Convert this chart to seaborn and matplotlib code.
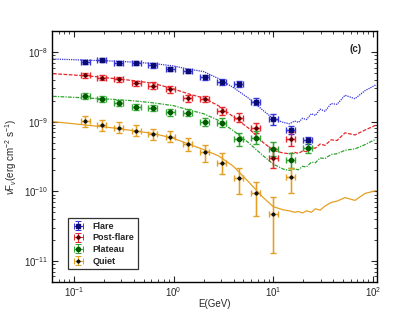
import numpy as np
import pandas as pd
import matplotlib
matplotlib.use('Agg')
import matplotlib.pyplot as plt
import seaborn as sns

sns.set_style('ticks')
plt.rcParams['font.family'] = ['Liberation Sans', 'DejaVu Sans']
plt.rcParams['mathtext.fontset'] = 'custom'
plt.rcParams['mathtext.rm'] = 'Liberation Sans'
plt.rcParams['mathtext.it'] = 'Liberation Sans:italic'
plt.rcParams['mathtext.bf'] = 'Liberation Sans:bold'
plt.rcParams['font.size'] = 7

# energy bins (GeV) of the data points
energy = [0.13, 0.19, 0.28, 0.42, 0.62, 0.93, 1.38, 2.05, 3.05, 4.5, 6.7, 10.0, 14.9, 22.2]
x_err_dex = 0.045

# log10 of nuFnu for each state
flare_log = [-8.139, -8.115, -8.153, -8.153, -8.192, -8.239, -8.268, -8.364, -8.426, -8.458,
             -8.716, -8.966, -9.123, -9.267]
flare_err = [0.03, 0.03, 0.03, 0.03, 0.03, 0.03, 0.03, 0.035, 0.04, 0.04, 0.05, 0.08, 0.06, 0.05]

post_log = [-8.335, -8.366, -8.392, -8.45, -8.483, -8.536, -8.665, -8.674, -8.842, -8.941,
            -9.089, -9.524, -9.246]
post_err = [0.04, 0.04, 0.04, 0.04, 0.05, 0.05, 0.05, 0.05, 0.06, 0.065, 0.07, 0.14, 0.1]

plateau_log = [-8.636, -8.674, -8.731, -8.784, -8.802, -8.865, -8.87, -9.0, -9.013, -9.252,
               -9.228, -9.39, -9.557, -9.371]
plateau_err = [0.045, 0.04, 0.045, 0.045, 0.045, 0.05, 0.05, 0.06, 0.065, 0.09, 0.09, 0.1, 0.11, 0.076]

quiet_log = [-8.995, -9.05, -9.089, -9.132, -9.18, -9.218, -9.318, -9.433, -9.59, -9.81,
             -10.024, -10.32, -9.8]
quiet_lo = [0.075, 0.08, 0.08, 0.08, 0.08, 0.08, 0.107, 0.145, 0.155, 0.222, 0.334, 0.56, 0.227]
quiet_hi = [0.075, 0.08, 0.08, 0.08, 0.08, 0.08, 0.09, 0.095, 0.134, 0.152, 0.153, 0.243, 0.134]

# model curves (log10 E, log10 nuFnu)
model_logE = [-1.21, -1.0, -0.8, -0.6, -0.4, -0.2, 0.0, 0.15, 0.3, 0.45, 0.6, 0.75, 0.9, 1.0, 1.1,
              1.164, 1.214, 1.254, 1.294, 1.333, 1.383, 1.423, 1.47, 1.52, 1.58, 1.64, 1.72,
              1.82, 1.92, 2.03]
flare_model = [-8.10, -8.11, -8.12, -8.13, -8.145, -8.165, -8.20, -8.245, -8.28, -8.38, -8.51,
               -8.66, -8.84, -8.955, -9.01, -9.03, -8.99, -9.01, -8.95, -8.97, -8.885, -8.91,
               -8.82, -8.85, -8.74, -8.75, -8.62, -8.67, -8.555, -8.47]
post_model = [-8.31, -8.33, -8.35, -8.38, -8.41, -8.45, -8.53, -8.60, -8.66, -8.77, -8.93,
              -9.09, -9.30, -9.41, -9.45, -9.46, -9.44, -9.455, -9.42, -9.43, -9.375, -9.38,
              -9.32, -9.34, -9.26, -9.27, -9.16, -9.19, -9.12, -9.05]
plateau_model = [-8.636, -8.65, -8.665, -8.68, -8.70, -8.73, -8.77, -8.83, -8.885, -8.98, -9.13,
                 -9.30, -9.49, -9.61, -9.68, -9.70, -9.68, -9.69, -9.64, -9.65, -9.58, -9.59,
                 -9.52, -9.53, -9.47, -9.46, -9.41, -9.39, -9.33, -9.25]
quiet_model = [-9.0, -9.03, -9.06, -9.09, -9.13, -9.17, -9.24, -9.32, -9.40, -9.49, -9.64,
               -9.86, -10.09, -10.22, -10.265, -10.28, -10.30, -10.29, -10.31, -10.28, -10.30,
               -10.25, -10.27, -10.21, -10.16, -10.14, -10.09, -10.13, -10.03, -9.99]

states = ['Flare', 'Post-flare', 'Plateau', 'Quiet']
colors = {'Flare': '#3434d8', 'Post-flare': '#e8262a', 'Plateau': '#2fa52f', 'Quiet': '#e5a023'}
dark = {'Flare': '#0a0a70', 'Post-flare': '#600000', 'Plateau': '#005a00', 'Quiet': '#111111'}
markers = {'Flare': 's', 'Post-flare': 'D', 'Plateau': 'o', 'Quiet': 'D'}
msize = {'Flare': 2.6, 'Post-flare': 1.9, 'Plateau': 3.0, 'Quiet': 1.7}
dashes = {'Flare': (1, 0.8), 'Post-flare': (3, 1.2), 'Plateau': (3, 1, 1, 1), 'Quiet': None}

points = {
    'Flare': (flare_log, flare_err, flare_err),
    'Post-flare': (post_log, post_err, post_err),
    'Plateau': (plateau_log, plateau_err, plateau_err),
    'Quiet': (quiet_log, quiet_lo, quiet_hi),
}
models = {'Flare': flare_model, 'Post-flare': post_model,
          'Plateau': plateau_model, 'Quiet': quiet_model}

fig = plt.figure(figsize=(4.18, 3.14), dpi=100)
ax = fig.add_axes([0.124, 0.102, 0.778, 0.799])

model_df = pd.concat([
    pd.DataFrame({'E': 10 ** np.array(model_logE), 'F': 10 ** np.array(models[s]), 'state': s})
    for s in states
])
for s in states:
    sub = model_df[model_df['state'] == s]
    sns.lineplot(data=sub, x='E', y='F', ax=ax, color=colors[s], lw=0.9, legend=False)
    if dashes[s] is not None:
        ax.lines[-1].set_dashes(dashes[s])

handles = []
for s in states:
    lg, lo, hi = points[s]
    n = len(lg)
    E = np.array(energy[:n])
    y = 10 ** np.array(lg)
    ylo = y - 10 ** (np.array(lg) - np.array(lo))
    yhi = 10 ** (np.array(lg) + np.array(hi)) - y
    xlo = E - E / 10 ** x_err_dex
    xhi = E * 10 ** x_err_dex - E
    # light halo, then the thin bar with marker
    ax.errorbar(E, y, xerr=[xlo, xhi], yerr=[ylo, yhi], fmt='none', ecolor=colors[s],
                elinewidth=2.2, capsize=2.4, capthick=1.8, alpha=0.25)
    h = ax.errorbar(E, y, xerr=[xlo, xhi], yerr=[ylo, yhi], fmt=markers[s], color=colors[s],
                    mfc=dark[s], mec=dark[s], ms=msize[s], elinewidth=0.8, capsize=2.2,
                    capthick=0.7, label=s)
    handles.append(h)

ax.set_xscale('log')
ax.set_yscale('log')
ax.set_xlim(0.06, 110)
ax.set_ylim(5e-12, 2e-8)
ax.set_xlabel('E(GeV)', fontsize=7, labelpad=0)
ax.set_ylabel(r'$\nu$F$_\nu$(erg cm$^{-2}$ s$^{-1}$)', fontsize=7, labelpad=4)
ax.tick_params(which='both', direction='in', top=True, right=True, labelsize=7)
ax.tick_params(which='major', length=4, width=0.8, pad=2.5)
ax.tick_params(which='minor', length=2, width=0.6)
for sp in ax.spines.values():
    sp.set_linewidth(1.0)
    sp.set_color('black')

ax.text(0.935, 0.928, '(c)', transform=ax.transAxes, fontsize=7, fontweight='bold',
        ha='center', va='center')

leg = ax.legend(handles=handles, loc='lower left', bbox_to_anchor=(0.05, 0.05),
                borderaxespad=0, fancybox=False, frameon=True,
                prop={'weight': 'bold', 'size': 6.5}, handlelength=1.5, labelspacing=0.3,
                borderpad=0.4, handletextpad=0.8)
leg.get_frame().set_edgecolor('black')
leg.get_frame().set_linewidth(0.9)

fig.savefig('out.png', dpi=100)
